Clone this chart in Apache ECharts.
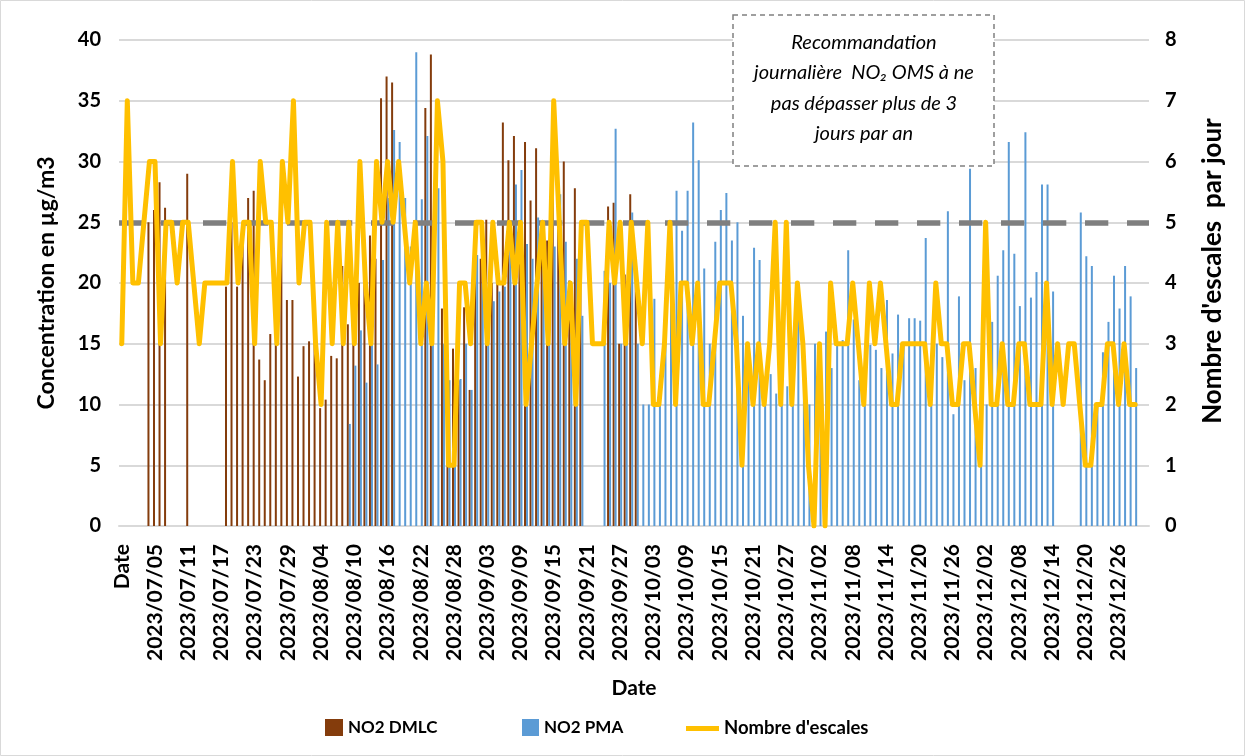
<!DOCTYPE html>
<html>
<head>
<meta charset="utf-8">
<script src="https://cdn.jsdelivr.net/npm/echarts@6/dist/echarts.min.js"></script>
<style>
  html, body { margin: 0; padding: 0; background: #ffffff; }
  #chart { width: 1245px; height: 756px; }
</style>
</head>
<body>
<div id="chart"></div>
<script>
const _ = null;

// Daily categories (the first entry is the sheet's header cell)
const categories = [
  'Date', '2023/06/30',
  '2023/07/01','2023/07/02','2023/07/03','2023/07/04','2023/07/05','2023/07/06','2023/07/07','2023/07/08','2023/07/09','2023/07/10',
  '2023/07/11','2023/07/12','2023/07/13','2023/07/14','2023/07/15','2023/07/16','2023/07/17','2023/07/18','2023/07/19','2023/07/20',
  '2023/07/21','2023/07/22','2023/07/23','2023/07/24','2023/07/25','2023/07/26','2023/07/27','2023/07/28','2023/07/29','2023/07/30','2023/07/31',
  '2023/08/01','2023/08/02','2023/08/03','2023/08/04','2023/08/05','2023/08/06','2023/08/07','2023/08/08','2023/08/09','2023/08/10',
  '2023/08/11','2023/08/12','2023/08/13','2023/08/14','2023/08/15','2023/08/16','2023/08/17','2023/08/18','2023/08/19','2023/08/20',
  '2023/08/21','2023/08/22','2023/08/23','2023/08/24','2023/08/25','2023/08/26','2023/08/27','2023/08/28','2023/08/29','2023/08/30','2023/08/31',
  '2023/09/01','2023/09/02','2023/09/03','2023/09/04','2023/09/05','2023/09/06','2023/09/07','2023/09/08','2023/09/09','2023/09/10',
  '2023/09/11','2023/09/12','2023/09/13','2023/09/14','2023/09/15','2023/09/16','2023/09/17','2023/09/18','2023/09/19','2023/09/20',
  '2023/09/21','2023/09/22','2023/09/23','2023/09/24','2023/09/25','2023/09/26','2023/09/27','2023/09/28','2023/09/29','2023/09/30',
  '2023/10/01','2023/10/02','2023/10/03','2023/10/04','2023/10/05','2023/10/06','2023/10/07','2023/10/08','2023/10/09','2023/10/10',
  '2023/10/11','2023/10/12','2023/10/13','2023/10/14','2023/10/15','2023/10/16','2023/10/17','2023/10/18','2023/10/19','2023/10/20',
  '2023/10/21','2023/10/22','2023/10/23','2023/10/24','2023/10/25','2023/10/26','2023/10/27','2023/10/28','2023/10/29','2023/10/30','2023/10/31',
  '2023/11/01','2023/11/02','2023/11/03','2023/11/04','2023/11/05','2023/11/06','2023/11/07','2023/11/08','2023/11/09','2023/11/10',
  '2023/11/11','2023/11/12','2023/11/13','2023/11/14','2023/11/15','2023/11/16','2023/11/17','2023/11/18','2023/11/19','2023/11/20',
  '2023/11/21','2023/11/22','2023/11/23','2023/11/24','2023/11/25','2023/11/26','2023/11/27','2023/11/28','2023/11/29','2023/11/30',
  '2023/12/01','2023/12/02','2023/12/03','2023/12/04','2023/12/05','2023/12/06','2023/12/07','2023/12/08','2023/12/09','2023/12/10',
  '2023/12/11','2023/12/12','2023/12/13','2023/12/14','2023/12/15','2023/12/16','2023/12/17','2023/12/18','2023/12/19','2023/12/20',
  '2023/12/21','2023/12/22','2023/12/23','2023/12/24','2023/12/25','2023/12/26','2023/12/27','2023/12/28','2023/12/29','2023/12/30','2023/12/31'
];

// NO2 daily mean, DMLC station (µg/m3)
const no2Dmlc = [
  _, _, _, _, _, 25.0, 26, 28.3, 26.2, _,
  _, _, 29.0, _, _, _, _, _, _, 19.7,
  25, 19.7, 24, 27.0, 27.6, 13.7, 12.0, 15.8, 15, 25,
  18.6, 18.6, 12.3, 14.8, 15.2, 18, 9.7, 10.4, 14.0, 13.8,
  21.4, 16.6, 15, 20, 22, 23.9, 22, 35.2, 37.0, 36.5,
  _, _, _, _, _, 34.4, 38.8, _, 17.9, 5,
  14.6, 12, 18, 11.2, 22.3, 22, 25.2, 20, 20, 33.2,
  30.1, 32.1, 25, 31.6, 26.8, 31.1, 22, 23.5, 30, 25,
  30.0, 20.2, 27.8, 24, _, _, _, _, 26.3, 26.6,
  15, 20.7, 27.3, 21.7, _, _, _, _, _, _,
  _, _, _, _, _, _, _, _, _, _,
  _, _, _, _, _, _, _, _, _, _,
  _, _, _, _, _, _, _, _, _, _,
  _, _, _, _, _, _, _, _, _, _,
  _, _, _, _, _, _, _, _, _, _,
  _, _, _, _, _, _, _, _, _, _,
  _, _, _, _, _, _, _, _, _, _,
  _, _, _, _, _, _, _, _, _, _,
  _, _, _, _, _, _
];

// NO2 daily mean, PMA station (µg/m3)
const no2Pma = [
  _, _, _, _, _, _, _, _, _, _,
  _, _, _, _, _, _, _, _, _, _,
  _, _, _, _, _, _, _, _, _, _,
  _, _, _, _, _, _, _, _, _, _,
  _, 8.4, 13.2, 16.1, 11.8, 15, 13.3, 21.9, 27, 32.6,
  31.6, 27, 23.0, 39.0, 26.9, 32.1, 20, 27.8, 15, 12,
  10, 12.1, 15, 11.2, 22.3, 20, 18, 18.5, 19.3, 19.7,
  25, 28.1, 29.3, 23.2, 22.0, 25.4, 24, 15, 23.0, 27.3,
  23.4, 20, 22.0, 17.3, _, _, _, 21, 20, 32.7,
  15, 16.4, 25.8, 15, 10, 10, 18.7, 12, 15, 19.1,
  27.6, 24.3, 27.6, 33.2, 30.1, 21.2, 15, 23.4, 26.0, 27.4,
  23.5, 25.0, 17.3, 12, 22.9, 21.9, 12, 12.5, 10.9, 13,
  11.5, 14, 17.3, 13, 10, 15, 12, 16, 13, 14.9,
  15.3, 22.7, 17, 12.0, 12, 14.9, 14.5, 13, 18.6, 14.2,
  17.4, 15, 17.1, 17.1, 16.9, 23.7, 10, 15, 13.9, 25.9,
  9.2, 18.9, 12.0, 29.4, 13, 5, 10, 16.8, 20.6, 22.7,
  31.6, 22.4, 18.1, 32.4, 18.8, 20.9, 28.1, 28.1, 19.3, _,
  _, _, _, 25.8, 22.2, 21.4, 10, 14.3, 16.8, 20.6,
  17.9, 21.4, 18.9, 13.0, _, _
];

// Number of ship calls per day
const escales = [
  3, 7, 4, 4, 5, 6, 6, 3, 5, 5,
  4, 5, 5, 4, 3, 4, 4, 4, 4, 4,
  6, 4, 5, 5, 3, 6, 5, 5, 3, 6,
  5, 7, 4, 5, 5, 3, 2, 5, 3, 5,
  3, 5, 3, 6, 4, 3, 6, 5, 6, 5,
  6, 5, 4, 5, 3, 4, 3, 7, 6, 1,
  1, 4, 4, 3, 5, 5, 3, 5, 4, 4,
  5, 4, 5, 2, 3, 4, 5, 3, 7, 5,
  3, 4, 2, 5, 5, 3, 3, 3, 5, 4,
  5, 3, 5, 4, 3, 5, 2, 2, 3, 5,
  2, 4, 4, 3, 4, 2, 2, 3, 4, 4,
  4, 3, 1, 3, 2, 3, 2, 3, 5, 2,
  5, 2, 4, 3, 1, 0, 3, 0, 4, 3,
  3, 3, 4, 3, 2, 4, 3, 4, 3, 2,
  2, 3, 3, 3, 3, 3, 2, 4, 3, 3,
  2, 2, 3, 3, 2, 1, 5, 2, 2, 3,
  2, 2, 3, 3, 2, 2, 2, 4, 2, 3,
  2, 3, 3, 2, 1, 1, 2, 2, 3, 3,
  2, 3, 2, 2, _, _
];

// WHO daily NO2 guideline (µg/m3)
const omsDailyLimit = 25;

const leftAxisRange = { min: 0, max: 40, interval: 5 };
const rightAxisRange = { min: 0, max: 8, interval: 1 };

const leftAxisTitle = 'Concentration en µg/m3';
const rightAxisTitle = "Nombre d'escales  par jour";

const noteLines = [
  'Recommandation',
  'journalière  NO₂ OMS à ne',
  'pas dépasser plus de 3',
  'jours par an'
];

const FONT = 'Lato, "Noto Sans", sans-serif';
const INK = '#000000';
const GRID = '#d9d9d9';

const chart = echarts.init(document.getElementById('chart'), null, { renderer: 'canvas' });

const boldText = (size) => ({ fontFamily: FONT, fontWeight: 'bold', fontSize: size, color: INK });

chart.setOption({
  animation: false,
  backgroundColor: '#ffffff',
  textStyle: { fontFamily: FONT },
  grid: { left: 119, right: 96, top: 40, bottom: 230, containLabel: false },
  legend: [
    {
      data: [{ name: 'NO2 DMLC', icon: 'rect' }],
      left: 320, top: 714, itemWidth: 18, itemHeight: 17, itemGap: 0,
      textStyle: boldText(17),
      selectedMode: false
    },
    {
      data: [{ name: 'NO2 PMA', icon: 'rect' }],
      left: 517, top: 714, itemWidth: 17, itemHeight: 17, itemGap: 0,
      textStyle: boldText(17),
      selectedMode: false
    },
    {
      data: [{ name: "Nombre d'escales", icon: 'rect', itemStyle: { color: '#ffc000' } }],
      left: 681, top: 714, itemWidth: 33, itemHeight: 5, itemGap: 0,
      textStyle: boldText(18.5),
      selectedMode: false
    }
  ],
  xAxis: {
    type: 'category',
    data: categories,
    boundaryGap: true,
    axisLine: { show: true, lineStyle: { color: GRID, width: 2 } },
    axisTick: { show: false },
    axisLabel: Object.assign(boldText(21), { interval: 5, rotate: 90, margin: 18 }),
    name: 'Date',
    nameLocation: 'middle',
    nameGap: 152,
    nameTextStyle: boldText(21)
  },
  yAxis: [
    {
      type: 'value',
      min: leftAxisRange.min, max: leftAxisRange.max, interval: leftAxisRange.interval,
      axisLine: { show: false },
      axisTick: { show: false },
      splitLine: { show: true, lineStyle: { color: GRID, width: 2 } },
      axisLabel: Object.assign(boldText(20), { margin: 18 }),
      name: leftAxisTitle,
      nameLocation: 'middle',
      nameRotate: 90,
      nameGap: 61,
      nameTextStyle: boldText(23)
    },
    {
      type: 'value',
      min: rightAxisRange.min, max: rightAxisRange.max, interval: rightAxisRange.interval,
      position: 'right',
      axisLine: { show: false },
      axisTick: { show: false },
      splitLine: { show: false },
      axisLabel: Object.assign(boldText(20), { margin: 16 })
    }
  ],
  series: [
    {
      name: 'NO2 DMLC',
      type: 'bar',
      data: no2Dmlc,
      barWidth: 2,
      barGap: '0%',
      itemStyle: { color: '#843c0c' },
      z: 2,
      markLine: {
        silent: true,
        symbol: ['none', 'none'],
        label: { show: false },
        lineStyle: { color: '#7f7f7f', width: 5.5, type: [23.3, 18.7], cap: 'butt' },
        data: [{ yAxis: omsDailyLimit }],
        z: 3
      }
    },
    {
      name: 'NO2 PMA',
      type: 'bar',
      data: no2Pma,
      barWidth: 2,
      barGap: '0%',
      itemStyle: { color: '#5b9bd5' },
      z: 2
    },
    {
      name: "Nombre d'escales",
      type: 'line',
      yAxisIndex: 1,
      data: escales,
      symbol: 'none',
      showSymbol: false,
      connectNulls: false,
      lineStyle: { color: '#ffc000', width: 5, join: 'round', cap: 'round' },
      itemStyle: { color: '#ffc000' },
      z: 5
    }
  ],
  graphic: [
    {
      // secondary axis title
      type: 'text',
      x: 1213,
      y: 271,
      rotation: Math.PI / 2,
      style: {
        text: rightAxisTitle,
        align: 'center',
        verticalAlign: 'middle',
        fontFamily: FONT,
        fontWeight: 'bold',
        fontSize: 26,
        fill: INK
      },
      z: 50
    },
    {
      type: 'rect',
      shape: { x: 733, y: 15, width: 261, height: 151 },
      style: { fill: '#ffffff', stroke: '#808080', lineWidth: 1.5, lineDash: [5, 4] },
      z: 100
    },
    {
      type: 'text',
      x: 864,
      y: 27,
      style: {
        text: noteLines.join('\n'),
        align: 'center',
        verticalAlign: 'top',
        fontFamily: FONT,
        fontStyle: 'italic',
        fontSize: 20,
        lineHeight: 30.5,
        fill: INK
      },
      z: 101
    },
    {
      type: 'rect',
      shape: { x: 0.5, y: 0.5, width: 1244, height: 755 },
      style: { fill: 'none', stroke: '#d9d9d9', lineWidth: 1 },
      silent: true,
      z: 0
    }
  ]
});
</script>
</body>
</html>
